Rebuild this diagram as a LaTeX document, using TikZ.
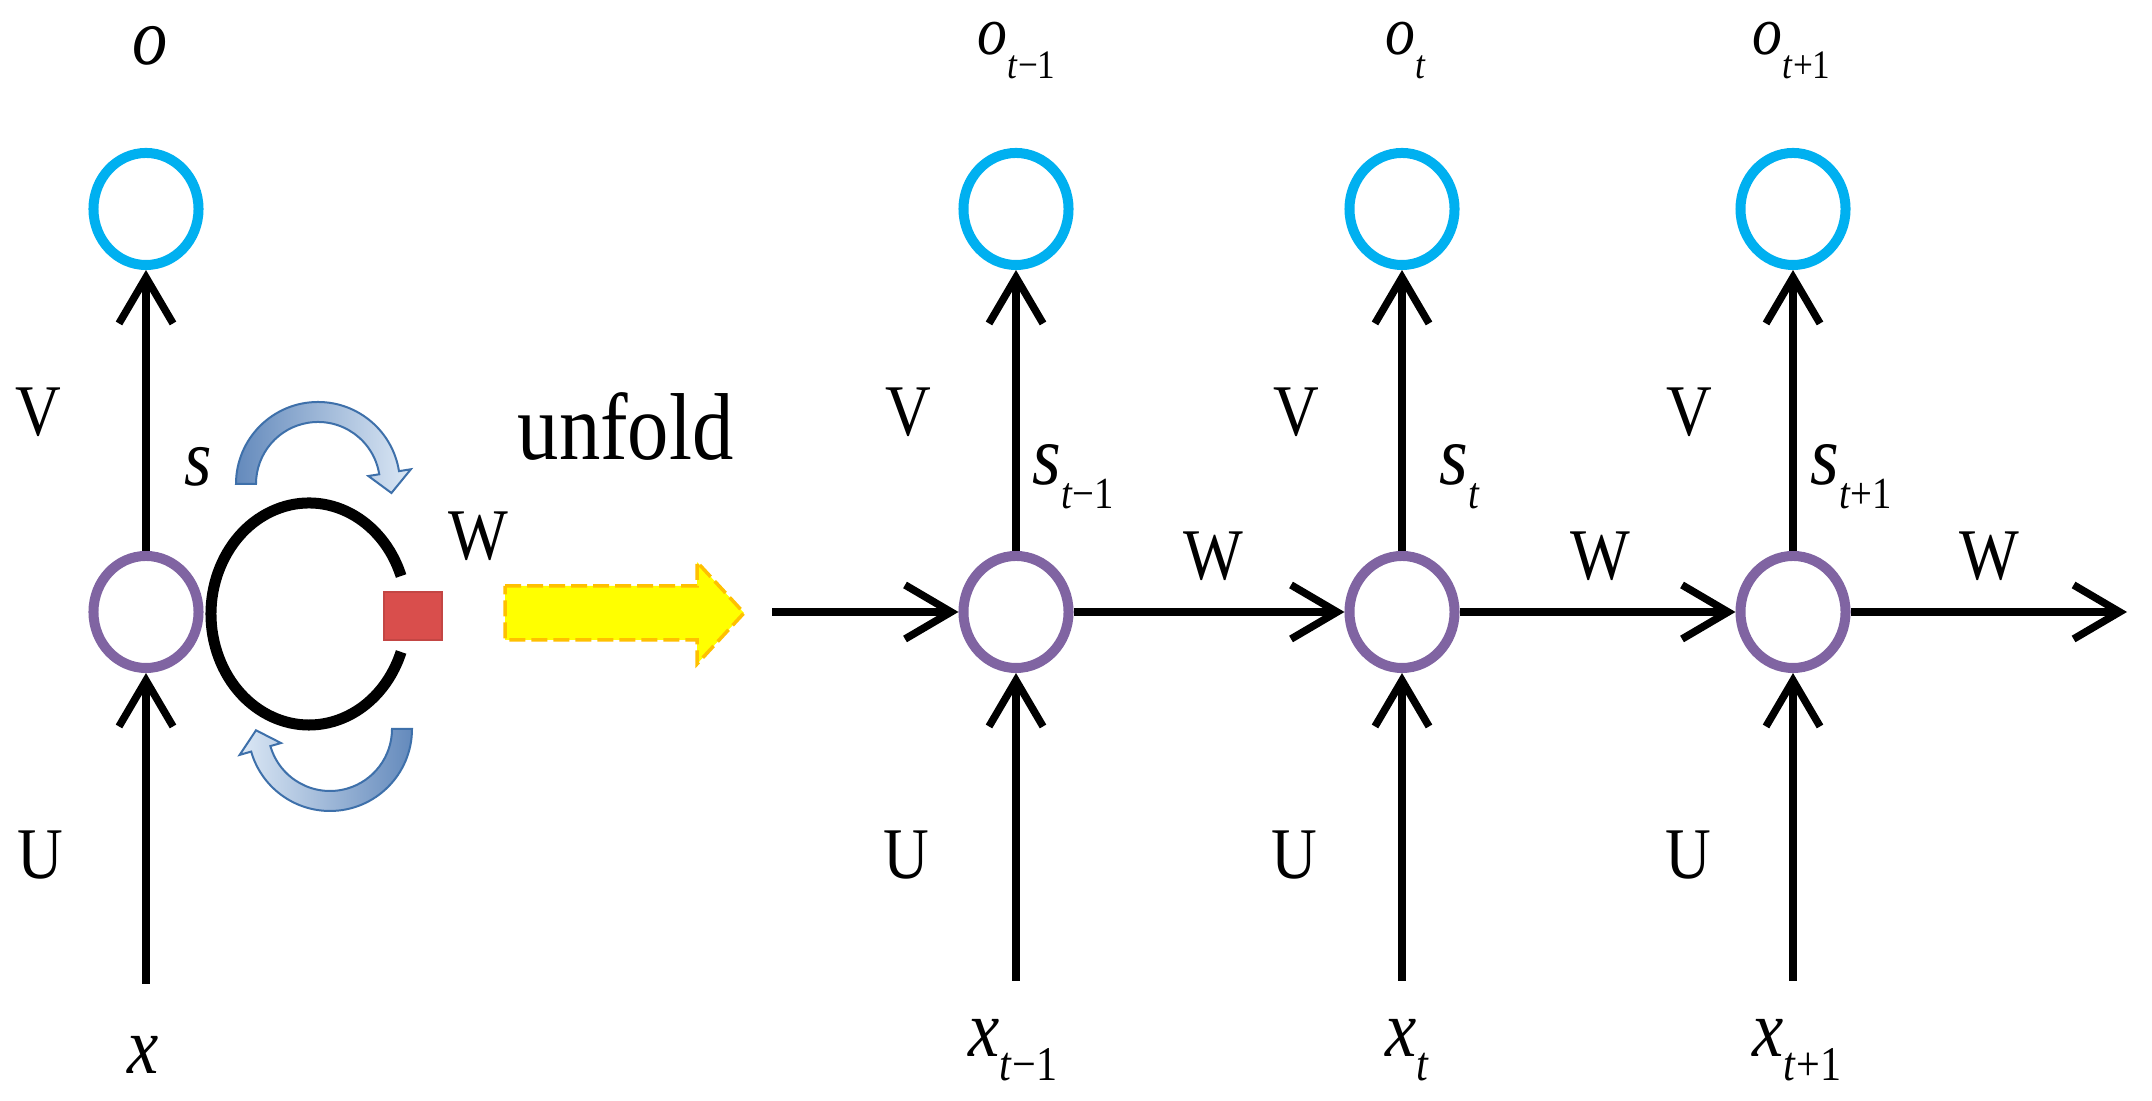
\documentclass[tikz,border=0pt]{standalone}
\usepackage{fontspec}
\setmainfont{Liberation Serif}
\usetikzlibrary{arrows.meta,shapes.geometric}
\definecolor{outcyan}{RGB}{0,176,240}
\definecolor{hidpurple}{RGB}{128,100,162}
\definecolor{bldark}{RGB}{100,138,188}
\definecolor{bllight}{RGB}{220,232,245}
\definecolor{bledge}{RGB}{62,112,170}
\definecolor{unfyel}{RGB}{255,255,0}
\definecolor{unfedge}{RGB}{255,192,0}
\definecolor{sqred}{RGB}{217,78,76}
\newcommand\lbl[4]{\fontsize{#1}{#1}\selectfont\textit{#3}\raisebox{-5.7pt}{\fontsize{#2}{#2}\selectfont\textit{t}#4}}
\begin{document}
\begin{tikzpicture}[x=0.01cm,y=0.01cm,
  outnode/.style={ellipse,draw=outcyan,line width=0.1cm,minimum width=1.05cm,minimum height=1.12cm,inner sep=0pt},
  hidnode/.style={outnode,draw=hidpurple},
  conn/.style={line width=0.075cm,-{Straight Barb[length=0.46cm,width=0.54cm]}},
  lab/.style={inner sep=0pt,yscale=1.15},
  caplab/.style={lab,font=\fontsize{18}{18}\selectfont},
  ital/.style={lab,anchor=base west},
]
\fill[white] (0,0) rectangle (2152,1101);
\useasboundingbox (0,0) rectangle (2152,1101);

% nodes
\node[outnode] (oL) at (146,892) {};
\node[hidnode] (hL) at (146,489) {};
\node[outnode] (o1) at (1016,892) {};
\node[hidnode] (h1) at (1016,489) {};
\node[outnode] (o2) at (1402,892) {};
\node[hidnode] (h2) at (1402,489) {};
\node[outnode] (o3) at (1793,892) {};
\node[hidnode] (h3) at (1793,489) {};

\coordinate (xinL) at (146,117);
\coordinate (xin1) at (1016,120);
\coordinate (xin2) at (1402,120);
\coordinate (xin3) at (1793,120);
\coordinate (win) at (772,489);
\coordinate (wout) at (2127,489);

% connectors
\draw[conn] (xinL) -- (hL);
\draw[conn] (hL) -- (oL);
\draw[conn] (xin1) -- (h1);
\draw[conn] (h1) -- (o1);
\draw[conn] (xin2) -- (h2);
\draw[conn] (h2) -- (o2);
\draw[conn] (xin3) -- (h3);
\draw[conn] (h3) -- (o3);
\draw[conn] (win) -- (h1);
\draw[conn] (h1) -- (h2);
\draw[conn] (h2) -- (h3);
\draw[conn] (h3) -- (wout);

% recurrent loop
\draw[line width=0.11cm] (309,487) ++(20:98 and 111) arc[start angle=20,end angle=340,x radius=98,y radius=111];
\node[fill=sqred,draw=sqred!90!black,line width=0.02cm,minimum width=0.58cm,minimum height=0.48cm,inner sep=0pt] (wsq) at (413,485) {};

\begin{scope}[shift={(318,617)}]
\draw[bledge,line width=0.02cm,left color=bldark,middle color=bldark!55!bllight,right color=bllight]
  (180:82) arc[start angle=180,end angle=9,radius=82] -- (9:94) -- (-7:74) -- (9:51) -- (9:62)
  arc[start angle=9,end angle=180,radius=62] -- cycle;
\end{scope}
\begin{scope}[shift={(330,372)}]
\draw[bledge,line width=0.02cm,left color=bllight,middle color=bldark!55!bllight,right color=bldark]
  (0:82) arc[start angle=0,end angle=-164,radius=82] -- (196:94) -- (181:74) -- (196:51) -- (196:62)
  arc[start angle=-164,end angle=0,radius=62] -- cycle;
\end{scope}

% unfold arrow
\draw[unfedge,fill=unfyel,line width=0.035cm,dash pattern=on 0.16cm off 0.06cm]
  (505,515) -- (697,515) -- (697,539) -- (744,488) -- (697,437) -- (697,461) -- (505,461) -- cycle;
\node[lab,anchor=base west,font=\fontsize{23.5}{24}\selectfont] (unf) at (517,641) {unfold};

% italic labels
\node[ital] (lo) at (132,1036) {\fontsize{20}{20}\selectfont\textit{o}};
\node[ital] (lo1) at (977,1046) {\lbl{17}{10}{o}{−1}};
\node[ital] (lo2) at (1385,1046) {\lbl{17}{10}{o}{}};
\node[ital] (lo3) at (1752,1046) {\lbl{17}{10}{o}{+1}};
\node[ital] (ls) at (184,615) {\fontsize{20}{20}\selectfont\textit{s}};
\node[ital] (ls1) at (1032,616) {\lbl{21}{11}{s}{−1}};
\node[ital] (ls2) at (1439,616) {\lbl{21}{11}{s}{}};
\node[ital] (ls3) at (1810,616) {\lbl{21}{11}{s}{+1}};
\node[ital] (lx) at (127,27) {\fontsize{20}{20}\selectfont\textit{x}};
\node[ital] (lx1) at (968,44) {\lbl{20}{12}{x}{−1}};
\node[ital] (lx2) at (1385,44) {\lbl{20}{12}{x}{}};
\node[ital] (lx3) at (1752,44) {\lbl{20}{12}{x}{+1}};

% upright labels
\node[caplab] (vL) at (38,689) {V};
\node[caplab] (v1) at (908,689) {V};
\node[caplab] (v2) at (1296,689) {V};
\node[caplab] (v3) at (1689,689) {V};
\node[caplab] (uL) at (40,246) {U};
\node[caplab] (u1) at (906,246) {U};
\node[caplab] (u2) at (1294,246) {U};
\node[caplab] (u3) at (1688,246) {U};
\node[caplab] (wL) at (478,565) {W};
\node[caplab] (w1) at (1213,545) {W};
\node[caplab] (w2) at (1600,545) {W};
\node[caplab] (w3) at (1989,545) {W};
\end{tikzpicture}
\end{document}
